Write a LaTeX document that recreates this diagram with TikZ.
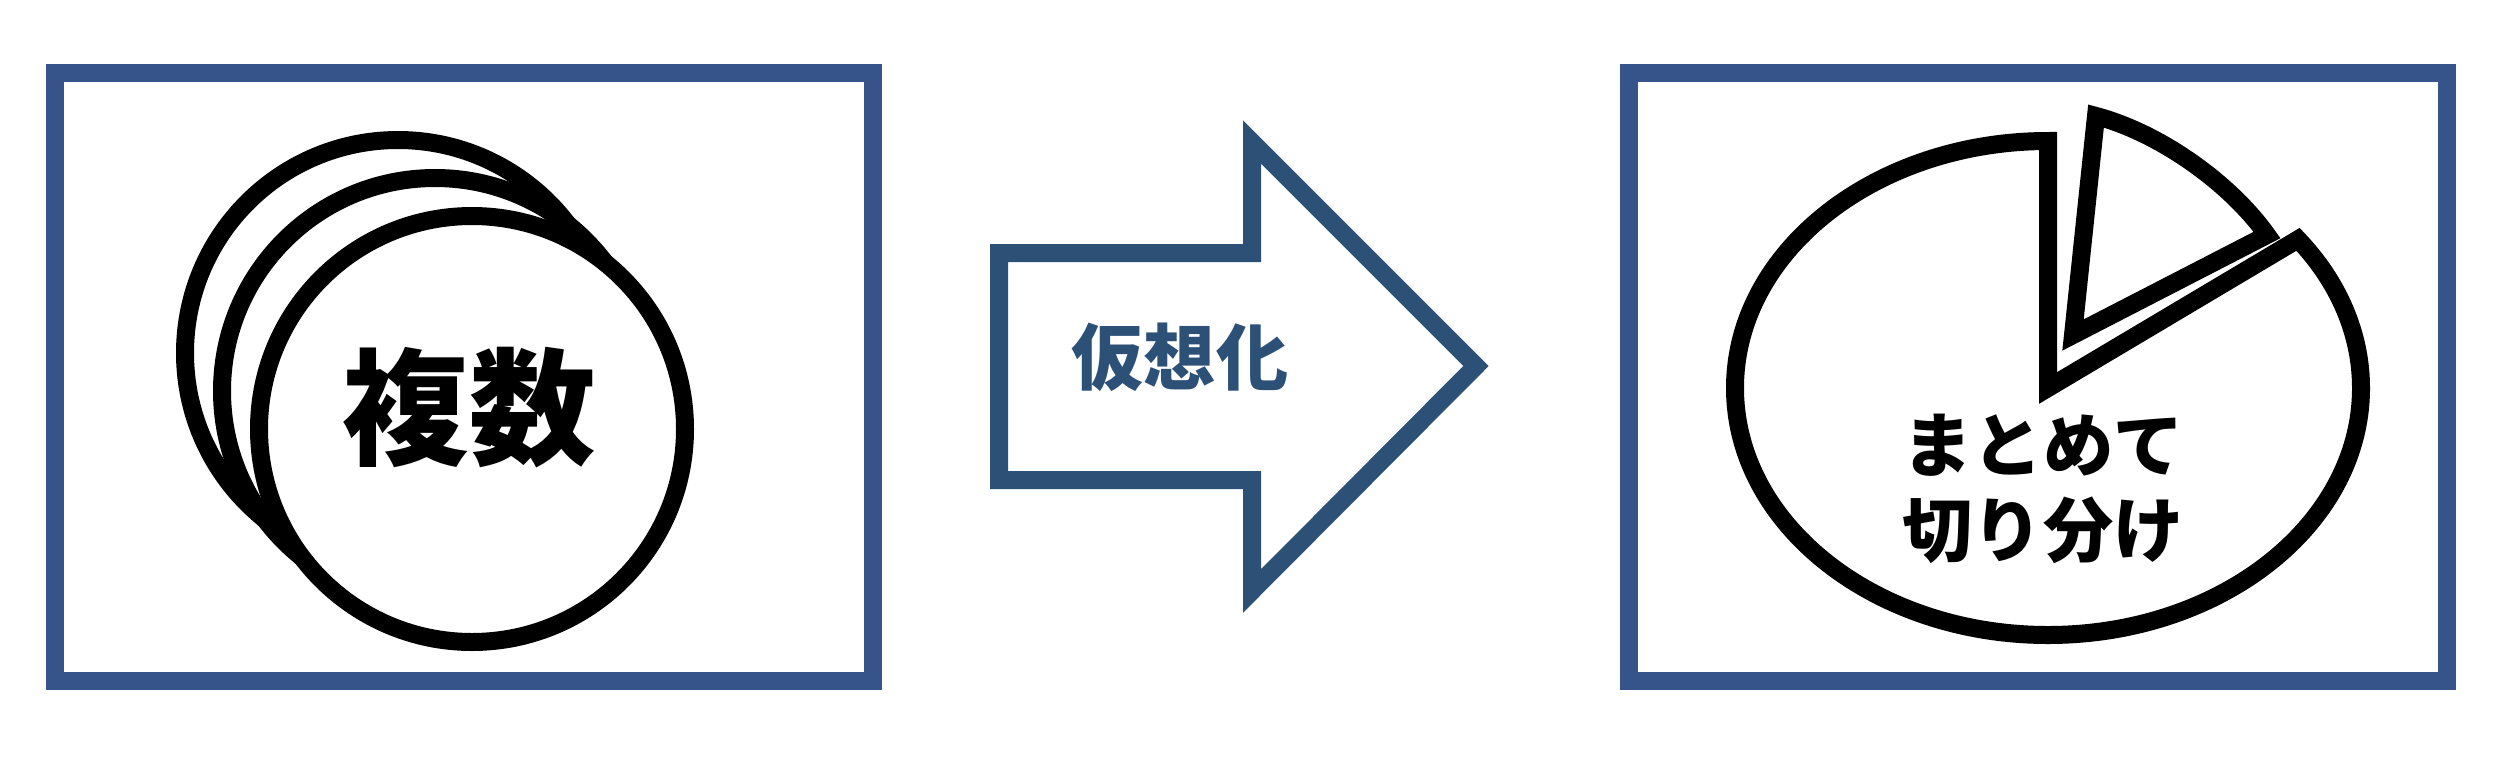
\documentclass[tikz,border=0pt]{standalone}
\usepackage{fontspec}
\newfontfamily\cjk{Noto Sans CJK JP}
\usepackage{tikz}
\usetikzlibrary{shapes,arrows}
\definecolor{frameblue}{HTML}{365489}
\definecolor{arrowblue}{HTML}{2D5077}
\tikzstyle{panel} = [rectangle, draw=frameblue, line width=0.18cm,
    minimum width=8.18cm, minimum height=6.08cm, inner sep=0pt]
\tikzstyle{disk} = [circle, draw, fill=white, line width=0.18cm,
    minimum size=4.26cm, inner sep=0pt]
\tikzstyle{piece} = [draw, fill=white, line width=0.18cm]
\tikzstyle{bigarrow} = [draw=arrowblue, fill=white, line width=0.18cm]
\tikzstyle{label} = [inner sep=0pt, align=center]

\begin{document}
\begin{tikzpicture}
    \useasboundingbox (0,0) rectangle (25.2,7.58);
    % Place panels
    \node [panel] (leftPanel) at (4.64,3.81) {};
    \node [panel] (rightPanel) at (20.38,3.81) {};

    % Stacked circles
    \node [disk] (backDisk) at (3.98,4.05) {};
    \node [disk] (midDisk) at (4.35,3.67) {};
    \node [disk] (frontDisk) at (4.72,3.29) {};
    \node [label, font=\fontsize{36}{42}\selectfont\cjk\bfseries] (multiText) at (4.69,3.50) {複数};

    % Arrow
    \path [bigarrow] (9.99,5.05) -- (12.52,5.05) -- (12.52,6.16) -- (14.76,3.92)
        -- (12.52,1.67) -- (12.52,2.78) -- (9.99,2.78) -- cycle;
    \node [label, text=arrowblue, font=\fontsize{20.5}{24}\selectfont\cjk\bfseries] (virtText) at (11.80,4.01) {仮想化};

    % Pie
    \coordinate (pieCenter) at (20.48,3.70);
    \path [piece] (pieCenter) -- ++(0,2.47)
        arc [start angle=90, end angle=397, x radius=3.13cm, y radius=2.47cm] -- cycle;
    \coordinate (sliceTip) at (20.73,4.23);
    \coordinate (sliceTop) at (20.96,6.42);
    \coordinate (sliceEnd) at (22.67,5.23);
    \path [piece] (sliceTip) -- (sliceTop)
        .. controls (21.60,6.25) and (22.30,5.75) .. (sliceEnd) -- cycle;
    \node [label, font=\fontsize{20}{24.2}\selectfont\cjk\bfseries] (splitText) at (20.43,2.69) {まとめて\\切り分け};
\end{tikzpicture}
\end{document}
